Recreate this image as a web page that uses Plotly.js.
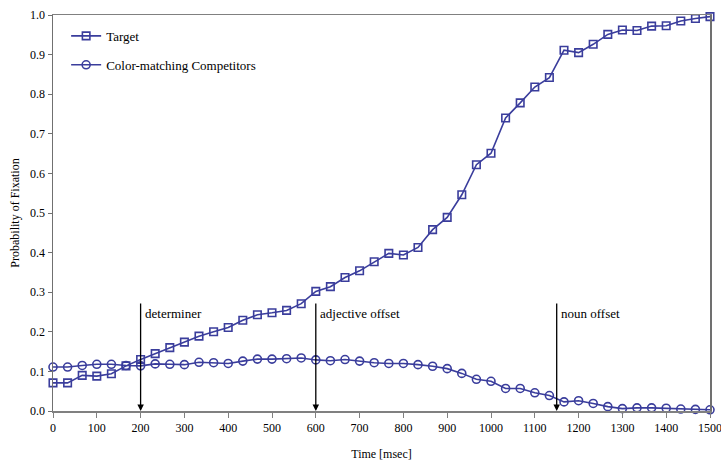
<!DOCTYPE html>
<html>
<head>
<meta charset="utf-8">
<script src="https://cdn.plot.ly/plotly-3.0.1.min.js"></script>
<style>html,body{margin:0;padding:0;background:#fff}#chart{width:721px;height:466px}</style>
</head>
<body>
<div id="chart"></div>
<script>
const timeMs = [0, 33.3, 66.7, 100, 133.3, 166.7, 200, 233.3, 266.7, 300, 333.3, 366.7, 400, 433.3, 466.7, 500, 533.3, 566.7, 600, 633.3, 666.7, 700, 733.3, 766.7, 800, 833.3, 866.7, 900, 933.3, 966.7, 1000, 1033.3, 1066.7, 1100, 1133.3, 1166.7, 1200, 1233.3, 1266.7, 1300, 1333.3, 1366.7, 1400, 1433.3, 1466.7, 1500];
const targetProb = [0.071, 0.071, 0.090, 0.088, 0.094, 0.114, 0.130, 0.145, 0.160, 0.174, 0.189, 0.200, 0.211, 0.229, 0.243, 0.248, 0.254, 0.271, 0.302, 0.314, 0.337, 0.354, 0.377, 0.398, 0.394, 0.413, 0.458, 0.489, 0.546, 0.622, 0.651, 0.740, 0.778, 0.818, 0.842, 0.911, 0.905, 0.926, 0.951, 0.962, 0.961, 0.972, 0.973, 0.985, 0.991, 0.996];
const competitorProb = [0.111, 0.111, 0.115, 0.118, 0.118, 0.115, 0.114, 0.119, 0.118, 0.117, 0.123, 0.122, 0.120, 0.126, 0.131, 0.131, 0.132, 0.134, 0.129, 0.127, 0.130, 0.126, 0.122, 0.120, 0.120, 0.117, 0.113, 0.107, 0.095, 0.080, 0.075, 0.057, 0.057, 0.046, 0.039, 0.023, 0.026, 0.019, 0.011, 0.006, 0.008, 0.008, 0.007, 0.005, 0.004, 0.003];
const seriesNames = ["Target", "Color-matching Competitors"];
const eventTimes = [200, 600, 1150];
const eventLabels = ["determiner", "adjective offset", "noun offset"];
const xTicks = [0, 100, 200, 300, 400, 500, 600, 700, 800, 900, 1000, 1100, 1200, 1300, 1400, 1500];

const blue = "#3a3d9c";
const font = "Liberation Serif";
const fs = 12;

const traces = [
  {x: timeMs, y: targetProb, name: seriesNames[0], type: "scatter", mode: "lines+markers",
   legendgroup: "a", cliponaxis: false,
   line: {color: blue, width: 1.6},
   marker: {symbol: "square-open", size: 7.5, color: blue, line: {width: 1.6, color: blue}}},
  {x: timeMs, y: competitorProb, name: seriesNames[1], type: "scatter", mode: "lines+markers",
   legendgroup: "b", cliponaxis: false,
   line: {color: blue, width: 1.6},
   marker: {symbol: "circle-open", size: 8, color: blue, line: {width: 1.6, color: blue}}}
];

const annotations = [];
eventTimes.forEach((t, i) => {
  annotations.push({x: t, y: 0, xref: "x", yref: "y", ax: t, ay: 0.275, axref: "x", ayref: "y",
    text: "", showarrow: true, arrowhead: 2, arrowsize: 1, arrowwidth: 1.3, arrowcolor: "#000"});
  annotations.push({x: t, y: 0.245, xref: "x", yref: "y", text: eventLabels[i], showarrow: false,
    xanchor: "left", yanchor: "middle", xshift: 2, font: {family: font, size: 13, color: "#000"}});
});

const layout = {
  width: 721, height: 466,
  margin: {l: 53, r: 11, t: 15, b: 55},
  paper_bgcolor: "#fff", plot_bgcolor: "#fff",
  font: {family: font, size: fs, color: "#000"},
  showlegend: true,
  legend: {x: 0.02, y: 0.985, xanchor: "left", yanchor: "top", bgcolor: "rgba(0,0,0,0)",
           traceorder: "grouped", tracegroupgap: 9, itemwidth: 30,
           font: {family: font, size: 13, color: "#000"}},
  xaxis: {range: [0, 1500], tickvals: xTicks, ticktext: xTicks.map(String),
          showgrid: false, zeroline: false, showline: true, linecolor: "#808080", linewidth: 1.5,
          mirror: true, ticks: "outside", ticklen: 5, tickcolor: "#808080", tickwidth: 1,
          ticklabeloverflow: "allow",
          tickfont: {family: font, size: fs},
          title: {text: "Time [msec]", font: {family: font, size: fs}, standoff: 15}},
  yaxis: {range: [0, 1], dtick: 0.1, tickformat: ".1f",
          showgrid: false, zeroline: false, showline: true, linecolor: "#707070", linewidth: 1.5,
          mirror: true, ticks: "outside", ticklen: 4, tickcolor: "#707070", tickwidth: 1,
          tickfont: {family: font, size: fs},
          title: {text: "Probability of Fixation", font: {family: font, size: fs}, standoff: 8}},
  annotations: annotations
};

Plotly.newPlot("chart", traces, layout, {displayModeBar: false, staticPlot: true});
</script>
</body>
</html>
